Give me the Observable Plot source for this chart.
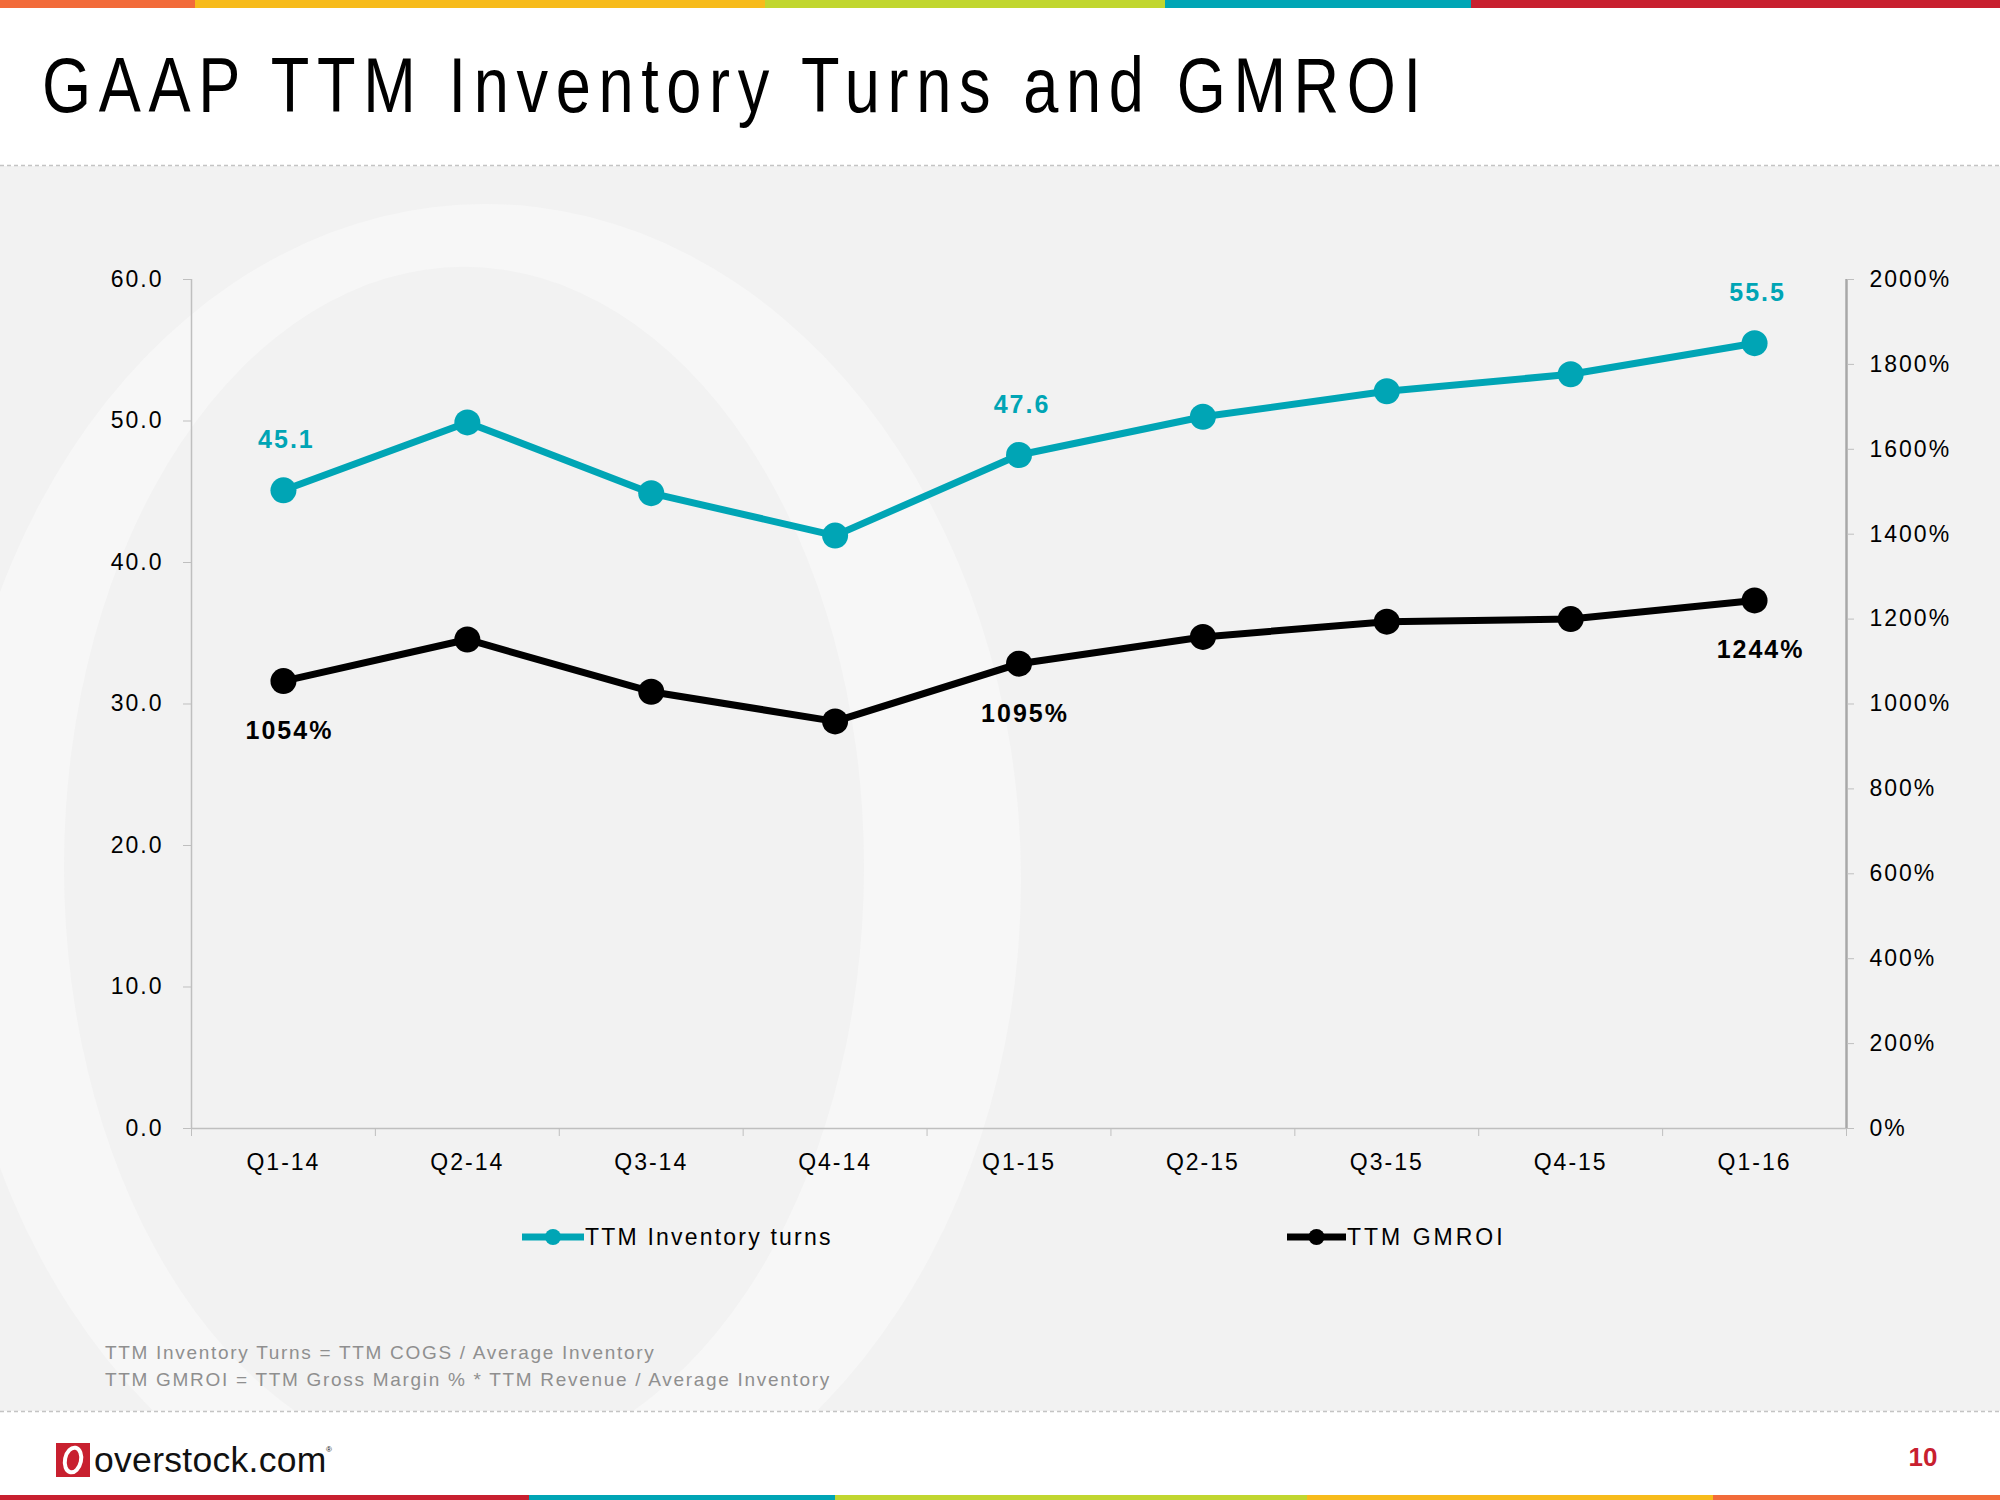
<!DOCTYPE html>
<html>
<head>
<meta charset="utf-8">
<script src="https://cdn.jsdelivr.net/npm/d3@7"></script>
<script src="https://cdn.jsdelivr.net/npm/@observablehq/plot@0.6"></script>
<style>
html, body { margin: 0; padding: 0; }
body { width: 2000px; height: 1500px; position: relative; background: #fff; overflow: hidden;
       font-family: "Liberation Sans", Arial, sans-serif; }
#bg { position: absolute; left: 0; top: 0; }
#chart { position: absolute; left: 0; top: 200px; }
#chart svg text { letter-spacing: 2px; }
</style>
</head>
<body>
<svg id="bg" width="2000" height="1500"></svg>
<div id="chart"></div>
<script>
// ---------------- data ----------------
const quarters = ["Q1-14", "Q2-14", "Q3-14", "Q4-14", "Q1-15", "Q2-15", "Q3-15", "Q4-15", "Q1-16"];
const inventoryTurns = [45.1, 49.9, 44.9, 41.9, 47.6, 50.3, 52.1, 53.3, 55.5];
const gmroiPct = [1054, 1152, 1029, 959, 1095, 1158, 1194, 1200, 1244];
const labeledQuarters = ["Q1-14", "Q1-15", "Q1-16"];
const leftTicks = [0, 10, 20, 30, 40, 50, 60];
const rightTicks = [0, 200, 400, 600, 800, 1000, 1200, 1400, 1600, 1800, 2000];
const seriesNames = ["TTM Inventory turns", "TTM GMROI"];
const titleText = "GAAP TTM Inventory Turns and GMROI";
const footnotes = ["TTM Inventory Turns = TTM COGS / Average Inventory",
                   "TTM GMROI = TTM Gross Margin % * TTM Revenue / Average Inventory"];
const pageNumber = "10";

const TEAL = "#00A5B5", BLACK = "#000000";
const leftMax = 60, rightMax = 2000, k = leftMax / rightMax;

const rows = quarters.map((q, i) => ({
  q, i, turns: inventoryTurns[i], gmroi: gmroiPct[i], gm: gmroiPct[i] * k
}));
const labeled = rows.filter(d => labeledQuarters.includes(d.q));

// ---------------- background / page furniture ----------------
const bg = d3.select("#bg");
bg.append("defs").append("clipPath").attr("id", "greyClip")
  .append("rect").attr("x", 0).attr("y", 166).attr("width", 2000).attr("height", 1245);
bg.append("rect").attr("x", 0).attr("y", 166).attr("width", 2000).attr("height", 1245).attr("fill", "#F2F2F2");
function ell(cx, cy, rx, ry) {
  return `M${cx - rx},${cy} a${rx},${ry} 0 1,0 ${2 * rx},0 a${rx},${ry} 0 1,0 ${-2 * rx},0 Z`;
}
bg.append("path").attr("clip-path", "url(#greyClip)")
  .attr("d", ell(485, 880, 536, 676) + ell(464, 867, 400, 600))
  .attr("fill-rule", "evenodd").attr("fill", "#F7F7F7");

[165.5, 1411.5].forEach(y => bg.append("line").attr("x1", 0).attr("x2", 2000).attr("y1", y).attr("y2", y)
  .attr("stroke", "#C4C4C4").attr("stroke-width", 1.5).attr("stroke-dasharray", "4,3"));

const topBar = [[0, 195, "#F26B3A"], [195, 765, "#F7BB1B"], [765, 1165, "#C1D62F"], [1165, 1471, "#00A5B5"], [1471, 2000, "#C8202F"]];
topBar.forEach(([a, b, c]) => bg.append("rect").attr("x", a).attr("y", 0).attr("width", b - a).attr("height", 8).attr("fill", c));
const botBar = [[0, 529, "#C8202F"], [529, 835, "#00A5B5"], [835, 1307, "#C1D62F"], [1307, 1713, "#F7BB1B"], [1713, 2000, "#F26B3A"]];
botBar.forEach(([a, b, c]) => bg.append("rect").attr("x", a).attr("y", 1495).attr("width", b - a).attr("height", 5).attr("fill", c));

// title: condensed look (horizontally scaled) with wide tracking
bg.append("text").attr("transform", "translate(42,112) scale(0.82,1)").text(titleText)
  .attr("font-family", "'Liberation Sans', Arial, sans-serif")
  .attr("font-size", 77).attr("letter-spacing", "9.3px").attr("fill", "#000");

footnotes.forEach((t, j) => bg.append("text").attr("x", 105).attr("y", 1359 + j * 27).text(t)
  .attr("font-size", 19).attr("letter-spacing", "1.7px").attr("fill", "#8F8F8F"));

// legend
const legendPos = [[522, 584], [1287, 1346]];
[TEAL, BLACK].forEach((c, j) => {
  const [x0, x1] = legendPos[j];
  bg.append("line").attr("x1", x0).attr("x2", x1).attr("y1", 1237).attr("y2", 1237)
    .attr("stroke", c).attr("stroke-width", 7);
  bg.append("circle").attr("cx", (x0 + x1) / 2).attr("cy", 1237).attr("r", 8).attr("fill", c);
  bg.append("text").attr("x", x1 + 1).attr("y", 1245).text(seriesNames[j])
    .attr("font-size", 23).attr("letter-spacing", j === 0 ? "2.2px" : "3px").attr("fill", "#000");
});

// logo
bg.append("rect").attr("x", 56).attr("y", 1443).attr("width", 34).attr("height", 34).attr("fill", "#C8202F");
bg.append("ellipse").attr("cx", 73).attr("cy", 1460).attr("rx", 8).attr("ry", 12.5)
  .attr("transform", "rotate(12 73 1460)")
  .attr("fill", "none").attr("stroke", "#fff").attr("stroke-width", 4);
bg.append("text").attr("x", 94).attr("y", 1472).text("overstock.com")
  .attr("font-size", 35.5).attr("letter-spacing", "0.3px").attr("fill", "#111");
bg.append("text").attr("x", 326).attr("y", 1452).text("®").attr("font-size", 8).attr("fill", "#111");

bg.append("text").attr("x", 1923).attr("y", 1466).attr("text-anchor", "middle").text(pageNumber)
  .attr("font-size", 26).attr("font-weight", "bold").attr("fill", "#C8202F");

// ---------------- chart ----------------
const chart = Plot.plot({
  width: 2000,
  height: 1000,
  marginLeft: 191,
  marginRight: 154,
  marginTop: 79,
  marginBottom: 72,
  style: { background: "transparent", fontFamily: "'Liberation Sans', Arial, sans-serif", fontSize: "23px", overflow: "visible" },
  x: { type: "linear", domain: [-0.5, quarters.length - 0.5], axis: null },
  y: { domain: [0, leftMax], axis: null },
  marks: [
    Plot.ruleY([0], { stroke: "#BFBFBF", strokeWidth: 1.5 }),
    Plot.ruleX([-0.5], { stroke: "#BFBFBF", strokeWidth: 1.5 }),
    Plot.ruleX([quarters.length - 0.5], { stroke: "#A8A8A8", strokeWidth: 2.5 }),
    Plot.axisY(leftTicks, { anchor: "left", label: null, tickSize: 8, tickPadding: 20, stroke: "#BFBFBF", fill: "#000",
      tickFormat: d => d.toFixed(1) }),
    Plot.axisY(rightTicks.map(v => v * k), { anchor: "right", label: null, tickSize: 7, tickPadding: 16, stroke: "#BFBFBF", fill: "#000",
      tickFormat: d => Math.round(d / k) + "%" }),
    Plot.axisX(d3.range(quarters.length + 1).map(i => i - 0.5), { anchor: "bottom", label: null, tickSize: 8, stroke: "#BFBFBF",
      tickFormat: () => "" }),
    Plot.axisX(d3.range(quarters.length), { anchor: "bottom", label: null, tickSize: 0, tickPadding: 25, fill: "#000",
      tickFormat: i => quarters[i] }),
    Plot.line(rows, { x: "i", y: "turns", stroke: TEAL, strokeWidth: 7 }),
    Plot.dot(rows, { x: "i", y: "turns", r: 13, fill: TEAL }),
    Plot.line(rows, { x: "i", y: "gm", stroke: BLACK, strokeWidth: 7 }),
    Plot.dot(rows, { x: "i", y: "gm", r: 13, fill: BLACK }),
    Plot.text(labeled, { x: "i", y: "turns", text: d => d.turns.toFixed(1), dy: -50, dx: 3,
      fill: TEAL, fontWeight: "bold", fontSize: 25 }),
    Plot.text(labeled, { x: "i", y: "gm", text: d => d.gmroi + "%", dy: 50, dx: 6,
      fill: BLACK, fontWeight: "bold", fontSize: 25 })
  ]
});
document.getElementById("chart").appendChild(chart);
</script>
</body>
</html>
